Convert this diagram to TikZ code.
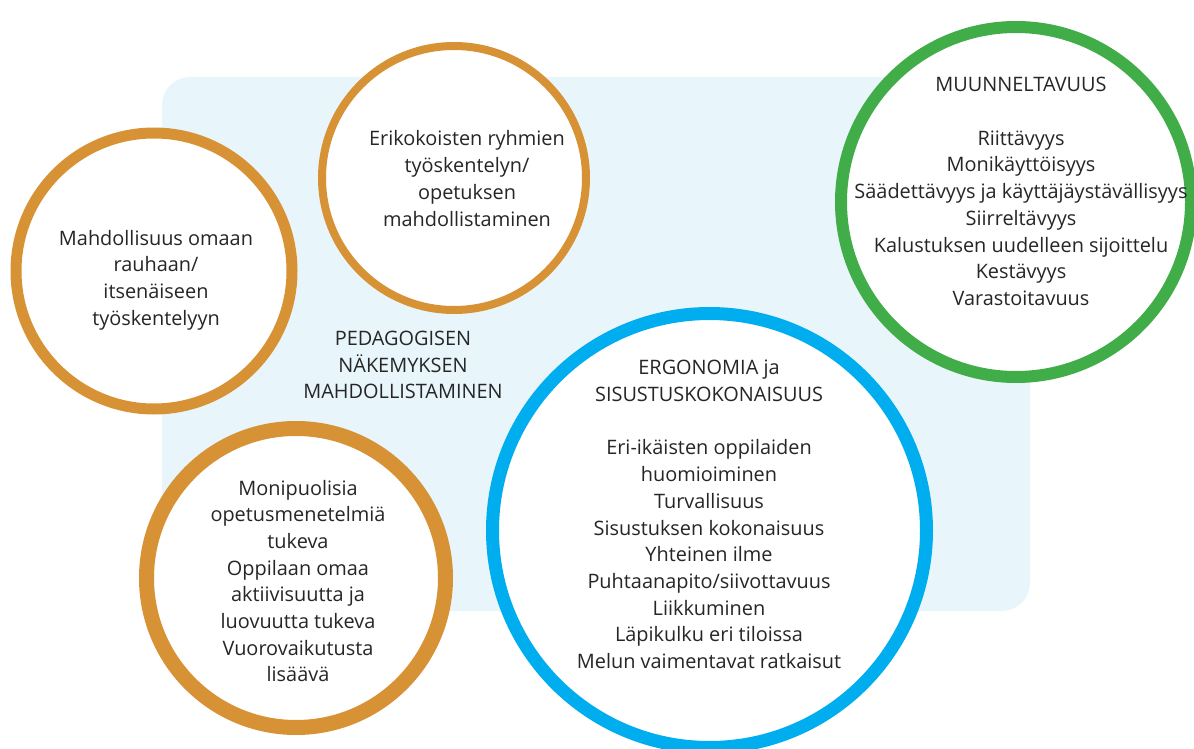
\documentclass[tikz,border=0pt]{standalone}
\usepackage{fontspec}
\setmainfont{Open Sans}
\definecolor{orng}{HTML}{D89236}
\definecolor{grn}{HTML}{41AD49}
\definecolor{blu}{HTML}{00AEEF}
\definecolor{bgblue}{HTML}{E8F6FC}
\definecolor{txt}{HTML}{262626}
\begin{document}
\begin{tikzpicture}[x=1pt,y=-1pt,
  ring/.style={circle, fill=white, inner sep=0pt, minimum size=#1},
  lbl/.style={align=center, text=txt, font=\fontsize{19.9}{26.7}\selectfont, inner sep=0pt},
]
\useasboundingbox (0,0) rectangle (1194,749);
\clip (0,0) rectangle (1194,749);
\fill[bgblue, rounded corners=28pt] (162,77) rectangle (1030,611);

\node[ring=276pt, draw=orng, line width=11pt] (c1) at (154,271) {};
\node[ring=264pt, draw=orng, line width=8pt] (c2) at (454,178) {};
\node[ring=299pt, draw=orng, line width=15pt] (c3) at (296,578) {};
\node[ring=350pt, draw=grn, line width=12pt] (c4) at (1016,202) {};
\node[ring=434pt, draw=blu, line width=13pt] (c5) at (709.5,530.5) {};

\node[lbl] (t1) at (156,280) {Mahdollisuus omaan\\rauhaan/\\itsenäiseen\\työskentelyyn};
\node[lbl] (t2) at (467,178.5) {Erikokoisten ryhmien\\työskentelyn/\\opetuksen\\mahdollistaminen};
\node[lbl] (t3) at (298,581) {Monipuolisia\\opetusmenetelmiä\\tukeva\\Oppilaan omaa\\aktiivisuutta ja\\luovuutta tukeva\\Vuorovaikutusta\\lisäävä};
\node[lbl] (t4) at (1021,191.5) {MUUNNELTAVUUS\\[26.7pt]Riittävyys\\Monikäyttöisyys\\Säädettävyys ja käyttäjäystävällisyys\\Siirreltävyys\\Kalustuksen uudelleen sijoittelu\\Kestävyys\\Varastoitavuus};
\node[lbl] (t5) at (709,514.5) {ERGONOMIA ja\\SISUSTUSKOKONAISUUS\\[26.7pt]Eri-ikäisten oppilaiden\\huomioiminen\\Turvallisuus\\Sisustuksen kokonaisuus\\Yhteinen ilme\\Puhtaanapito/siivottavuus\\Liikkuminen\\Läpikulku eri tiloissa\\Melun vaimentavat ratkaisut};
\node[lbl] (t6) at (403,365) {PEDAGOGISEN\\NÄKEMYKSEN\\MAHDOLLISTAMINEN};
\end{tikzpicture}
\end{document}
